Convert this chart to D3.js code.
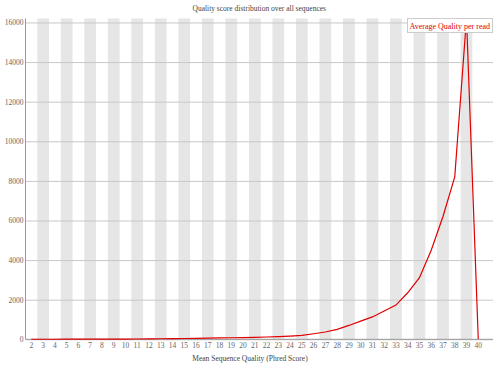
<!DOCTYPE html>
<html>
<head>
<meta charset="utf-8">
<script src="https://cdn.jsdelivr.net/npm/d3@7"></script>
<style>
  body { margin: 0; background: #fff; }
  svg text { font-family: "Liberation Serif", "Times New Roman", serif; }
</style>
</head>
<body>
<div id="chart"></div>
<script>
const categories = ['2','3','4','5','6','7','8','9','10','11','12','13','14','15','16','17','18','19','20','21',
                    '22','23','24','25','26','27','28','29','30','31','32','33','34','35','36','37','38','39','40']
const counts = [2, 3, 3, 4, 5, 6, 8, 10, 12, 15, 20, 28, 35, 40, 50, 58, 70, 78, 85, 95,
                115, 135, 165, 200, 280, 370, 500, 700, 920, 1130, 1430, 1730, 2350, 3110, 4500, 6200, 8200, 16200, 10]
const yTicks = [0, 2000, 4000, 6000, 8000, 10000, 12000, 14000, 16000]
const yMax = 16200

const width = 500, height = 366
const plotLeft = 25.5, plotRight = 493, plotTop = 18.5, plotBottom = 339.3
const colWidth = 11.76

const svg = d3.select('#chart').append('svg')
  .attr('width', width)
  .attr('height', height)

let x = d3.scaleBand()
  .domain(categories)
  .range([plotLeft, plotLeft + colWidth * categories.length])
let y = d3.scaleLinear()
  .domain([0, yMax])
  .range([plotBottom, plotTop])

// alternating column stripes
svg.append('g').selectAll('rect')
  .data(categories.filter((c, i) => i % 2 === 1))
  .enter().append('rect')
  .attr('x', c => x(c))
  .attr('y', plotTop)
  .attr('width', x.bandwidth())
  .attr('height', plotBottom - plotTop)
  .attr('fill', '#e6e6e6')

// horizontal grid + y labels
let yAxis = svg.append('g')
  .attr('transform', 'translate(' + plotLeft + ',0)')
  .call(d3.axisLeft(y).tickValues(yTicks).tickSize(-(plotRight - plotLeft)).tickPadding(2).tickFormat(d3.format('d')))
yAxis.select('.domain').remove()
yAxis.selectAll('line').attr('stroke', '#c8c8c8')
yAxis.selectAll('text').attr('fill', '#666').attr('font-size', '7.5px')

// x labels
let xAxis = svg.append('g')
  .attr('transform', 'translate(0,' + plotBottom + ')')
  .call(d3.axisBottom(x).tickSize(0).tickPadding(3.5))
xAxis.select('.domain').remove()
xAxis.selectAll('text').attr('fill', '#666').attr('font-size', '7.5px')

// axis lines
svg.append('line')
  .attr('x1', plotLeft).attr('x2', plotLeft)
  .attr('y1', plotTop).attr('y2', plotBottom)
  .attr('stroke', '#999')
svg.append('line')
  .attr('x1', plotLeft).attr('x2', plotRight)
  .attr('y1', plotBottom).attr('y2', plotBottom)
  .attr('stroke', '#999')

let line = d3.line()
  .x((d, i) => x(categories[i]) + x.bandwidth() / 2)
  .y(d => y(d))

svg.append('path')
  .datum(counts)
  .attr('d', line)
  .attr('fill', 'none')
  .attr('stroke', '#e00000')
  .attr('stroke-width', 1.2)

// title and x title
svg.append('text')
  .attr('x', (plotLeft + plotRight) / 2)
  .attr('y', 11)
  .attr('text-anchor', 'middle')
  .attr('font-size', '7.5px')
  .attr('fill', '#444')
  .text('Quality score distribution over all sequences')

svg.append('text')
  .attr('x', width / 2)
  .attr('y', 360.5)
  .attr('text-anchor', 'middle')
  .attr('font-size', '7.5px')
  .attr('fill', '#444')
  .text('Mean Sequence Quality (Phred Score)')

// legend
let legend = svg.append('g')
legend.append('rect')
  .attr('x', 407.5).attr('y', 18.5)
  .attr('width', 85).attr('height', 14)
  .attr('fill', '#fff')
  .attr('stroke', '#ccc')
legend.append('text')
  .attr('x', 409.5).attr('y', 29)
  .attr('font-size', '8px')
  .attr('fill', '#e00000')
  .text('Average Quality per read')
</script>
</body>
</html>
